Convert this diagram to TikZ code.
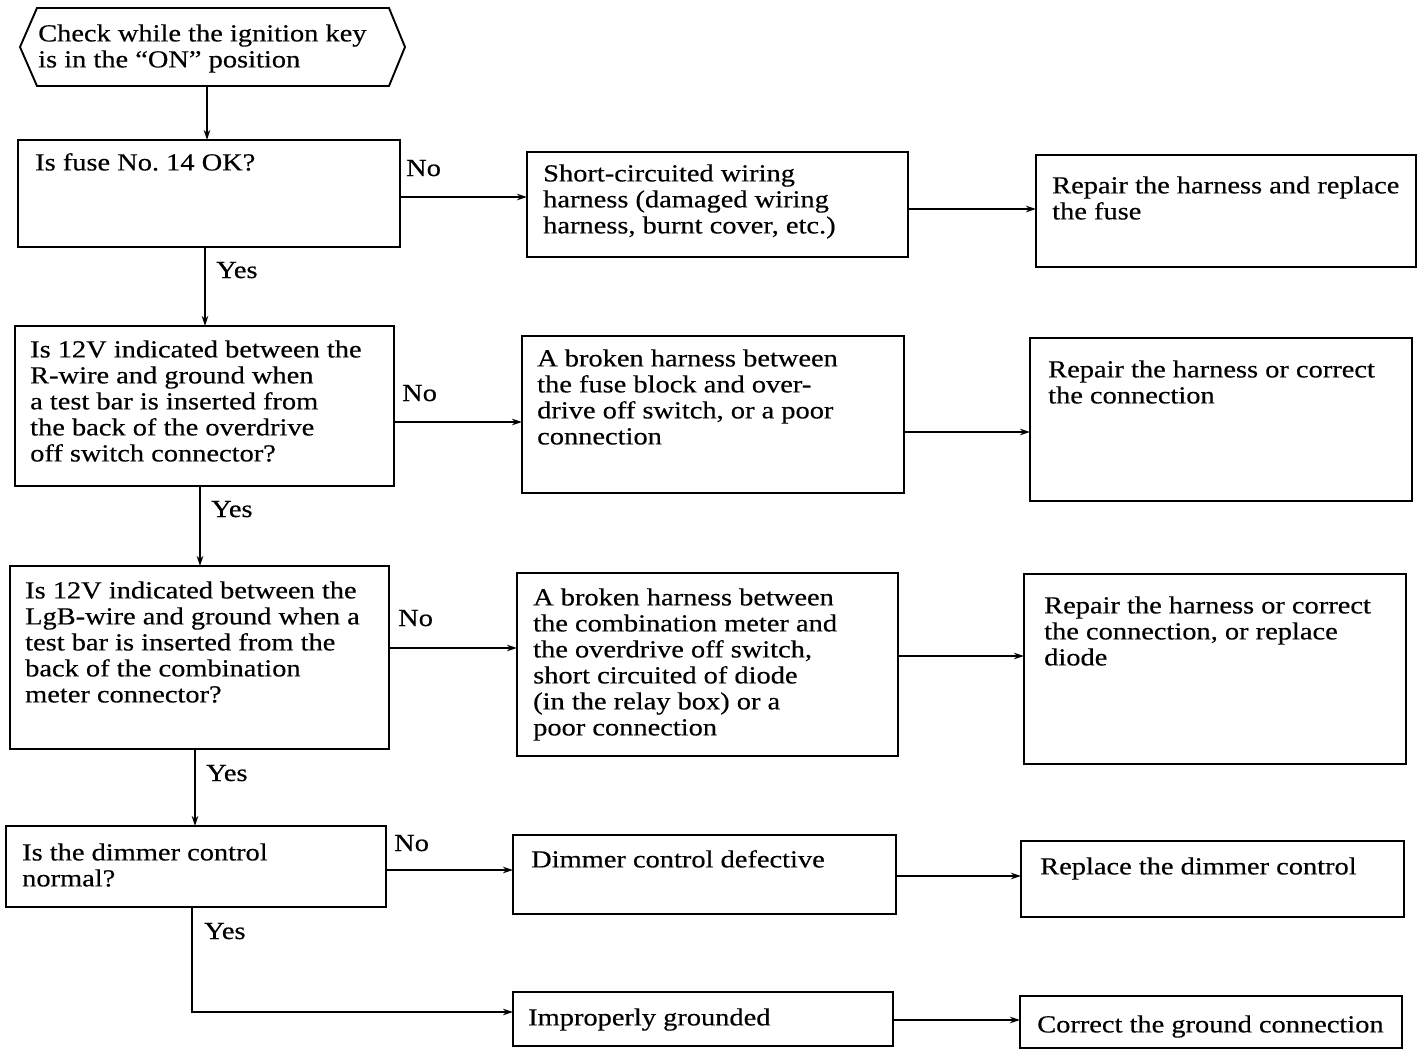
\documentclass[tikz,border=0pt]{standalone}
\usepackage{fontspec}
\setmainfont[FakeStretch=1.16,FakeBold=0.4]{Liberation Serif}
\usetikzlibrary{arrows.meta}
\begin{document}
\begin{tikzpicture}[x=1pt,y=-1pt,
 box/.style={draw, line width=1.9pt, anchor=north west, inner sep=0pt, outer sep=0pt},
 txt/.style={anchor=north west, inner sep=0pt, align=left, font=\fontsize{24.5}{26}\selectfont},
 lbl/.style={anchor=base west, inner sep=0pt, font=\fontsize{24.5}{26}\selectfont},
 arr/.style={line width=1.4pt, -{Stealth[length=10pt,width=6.5pt]}}]
\useasboundingbox (0,0) rectangle (1419,1050);
% start hexagon
\coordinate (h1) at (20,47);
\coordinate (h2) at (37,8);
\coordinate (h3) at (389,8);
\coordinate (h4) at (405,47);
\coordinate (h5) at (389,86);
\coordinate (h6) at (37,86);
\coordinate (hb) at (207,86);
\draw[line width=1.9pt, line join=miter] (h1)--(h2)--(h3)--(h4)--(h5)--(h6)--cycle;
\node[txt] (t0) at (38,23) {\strut Check while the ignition key\\is in the “ON” position};
% boxes
\node[box, minimum width=382pt, minimum height=107pt] (b1) at (18,140) {};
\node[box, minimum width=381pt, minimum height=105pt] (n1) at (527,152) {};
\node[box, minimum width=380pt, minimum height=112pt] (r1) at (1036,155) {};
\node[box, minimum width=379pt, minimum height=160pt] (b2) at (15,326) {};
\node[box, minimum width=382pt, minimum height=157pt] (n2) at (522,336) {};
\node[box, minimum width=382pt, minimum height=163pt] (r2) at (1030,338) {};
\node[box, minimum width=379pt, minimum height=183pt] (b3) at (10,566) {};
\node[box, minimum width=381pt, minimum height=183pt] (n3) at (517,573) {};
\node[box, minimum width=382pt, minimum height=190pt] (r3) at (1024,574) {};
\node[box, minimum width=380pt, minimum height=81pt] (b4) at (6,826) {};
\node[box, minimum width=383pt, minimum height=79pt] (n4) at (513,835) {};
\node[box, minimum width=383pt, minimum height=76pt] (r4) at (1021,841) {};
\node[box, minimum width=380pt, minimum height=54pt] (n5) at (513,992) {};
\node[box, minimum width=382pt, minimum height=52pt] (r5) at (1020,996) {};
% texts
\node[txt] (tb1) at (35,152) {\strut Is fuse No.\ 14 OK?};
\node[txt] (tn1) at (543,163) {\strut Short-circuited wiring\\harness (damaged wiring\\harness, burnt cover, etc.)};
\node[txt] (tr1) at (1052,175) {\strut Repair the harness and replace\\the fuse};
\node[txt] (tb2) at (30,339) {\strut Is 12V indicated between the\\R-wire and ground when\\a test bar is inserted from\\the back of the overdrive\\off switch connector?};
\node[txt] (tn2) at (537,348) {\strut A broken harness between\\the fuse block and over-\\drive off switch, or a poor\\connection};
\node[txt] (tr2) at (1048,359) {\strut Repair the harness or correct\\the connection};
\node[txt] (tb3) at (25,580) {\strut Is 12V indicated between the\\LgB-wire and ground when a\\test bar is inserted from the\\back of the combination\\meter connector?};
\node[txt] (tn3) at (533,587) {\strut A broken harness between\\the combination meter and\\the overdrive off switch,\\short circuited of diode\\(in the relay box) or a\\poor connection};
\node[txt] (tr3) at (1044,595) {\strut Repair the harness or correct\\the connection, or replace\\diode};
\node[txt] (tb4) at (22,842) {\strut Is the dimmer control\\normal?};
\node[txt] (tn4) at (531,849) {\strut Dimmer control defective};
\node[txt] (tr4) at (1040,856) {\strut Replace the dimmer control};
\node[txt] (tn5) at (528,1007) {\strut Improperly grounded};
\node[txt] (tr5) at (1037,1014) {\strut Correct the ground connection};
% labels
\node[lbl] (no1) at (406,176) {No};
\node[lbl] (no2) at (402,401) {No};
\node[lbl] (no3) at (398,626) {No};
\node[lbl] (no4) at (394,851) {No};
\node[lbl] (y1) at (216,278) {Yes};
\node[lbl] (y2) at (211,517) {Yes};
\node[lbl] (y3) at (206,781) {Yes};
\node[lbl] (y4) at (204,939) {Yes};
% vertical connectors
\draw[arr] (hb) -- (hb |- b1.north);
\draw[arr] ([xshift=-4pt]b1.south) -- ([xshift=-4pt]b1.south |- b2.north);
\draw[arr] ([xshift=-4.5pt]b2.south) -- ([xshift=-4.5pt]b2.south |- b3.north);
\draw[arr] ([xshift=-4.5pt]b3.south) -- ([xshift=-4.5pt]b3.south |- b4.north);
\draw[arr] ([xshift=-4pt]b4.south) |- ([yshift=7pt]n5.west);
% horizontal connectors
\draw[arr] ([yshift=-3.5pt]b1.east) -- ([yshift=-3.5pt]b1.east -| n1.west);
\draw[arr] ([yshift=-4.5pt]n1.east) -- ([yshift=-4.5pt]n1.east -| r1.west);
\draw[arr] ([yshift=-16pt]b2.east) -- ([yshift=-16pt]b2.east -| n2.west);
\draw[arr] ([yshift=-17.5pt]n2.east) -- ([yshift=-17.5pt]n2.east -| r2.west);
\draw[arr] ([yshift=9.5pt]b3.east) -- ([yshift=9.5pt]b3.east -| n3.west);
\draw[arr] ([yshift=8.5pt]n3.east) -- ([yshift=8.5pt]n3.east -| r3.west);
\draw[arr] ([yshift=-3.5pt]b4.east) -- ([yshift=-3.5pt]b4.east -| n4.west);
\draw[arr] ([yshift=-1.5pt]n4.east) -- ([yshift=-1.5pt]n4.east -| r4.west);
\draw[arr] ([yshift=-1pt]n5.east) -- ([yshift=-1pt]n5.east -| r5.west);
\end{tikzpicture}
\end{document}
